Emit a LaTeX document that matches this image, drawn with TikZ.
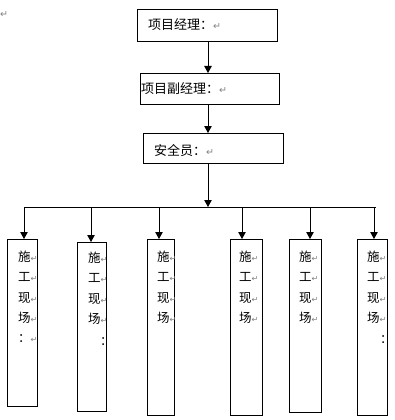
\documentclass[tikz,border=0pt]{standalone}
\usepackage{fontspec}
\newfontfamily\cjk{Noto Sans CJK SC}
\newfontfamily\dv{DejaVu Sans}
\usetikzlibrary{arrows.meta}
\newcommand\rmk{{\dv\color{gray}\fontsize{9.5}{9.5}\selectfont ↵}}
\newcommand\srmk{{\dv\color{gray}\fontsize{8}{8}\selectfont ↵}}
\begin{document}
\begin{tikzpicture}[x=1pt,y=-1pt,
  box/.style={draw, line width=0.9pt, inner sep=0, anchor=north west},
  lbl/.style={inner sep=0, anchor=west, font=\cjk\fontsize{13}{13}\selectfont},
  vlbl/.style={inner sep=0, anchor=west, font=\cjk\fontsize{12.5}{12.5}\selectfont},
  conn/.style={line width=0.9pt},
  arr/.style={line width=0.9pt, -{Triangle[length=7pt,width=7.5pt]}}]
\useasboundingbox[fill=white] (0,0) rectangle (395,420);
% top boxes
\node[box, minimum width=140pt, minimum height=32pt] (pm) at (137,9) {};
\node[box, minimum width=139pt, minimum height=31pt] (dpm) at (140,73) {};
\node[box, minimum width=140pt, minimum height=30pt] (saf) at (143,133) {};
\node[lbl] (tpm) at (148,25) {项目经理：\rmk};
\node[lbl] (tdpm) at (141,89) {项目副经理：\rmk};
\node[lbl] (tsaf) at (154,151) {安全员：\rmk};
\node[inner sep=0] (corner) at (4,15) {\rmk};
% hub and line
\coordinate (hub) at (208,207);
\coordinate (L) at (24,207);
\coordinate (R) at (376,207);
\draw[arr] (pm.south -| hub) -- (dpm.north -| hub);
\draw[arr] (dpm.south -| hub) -- (saf.north -| hub);
\draw[arr] (saf.south -| hub) -- (hub);
\draw[conn] (L) -- (R);
% bottom boxes
\node[box, minimum width=30pt, minimum height=167pt] (b1) at (7,239) {};
\node[box, minimum width=29pt, minimum height=169pt] (b2) at (77,242) {};
\node[box, minimum width=27pt, minimum height=176pt] (b3) at (147,239) {};
\node[box, minimum width=32pt, minimum height=176pt] (b4) at (230,239) {};
\node[box, minimum width=32pt, minimum height=173pt] (b5) at (289,239) {};
\node[box, minimum width=30pt, minimum height=176pt] (b6) at (357,239) {};
\coordinate (t1) at (24,207);
\coordinate (t2) at (91,207);
\coordinate (t3) at (159,207);
\coordinate (t4) at (242,207);
\coordinate (t5) at (310,207);
\coordinate (t6) at (374,207);
\foreach \i in {1,...,6} {\draw[arr] (t\i) -- (t\i |- b\i.north);}
% vertical texts
\foreach \b/\x/\y in {b1/18/257, b2/88/258, b3/157/257, b4/239/257, b5/299/257, b6/367/257} {
  \begin{scope}
    \clip (\b.north west) rectangle (\b.south east);
    \foreach \c [count=\k from 0] in {施,工,现,场} {
      \node[vlbl] (\b c\k) at (\x,\y+20.3*\k) {\c\srmk};
    }
  \end{scope}
}
\node[vlbl] (c1) at (18,339) {：\srmk};
\node[vlbl] (c2) at (100,342) {：};
\node[vlbl] (c6) at (380,340) {：};
\end{tikzpicture}
\end{document}
